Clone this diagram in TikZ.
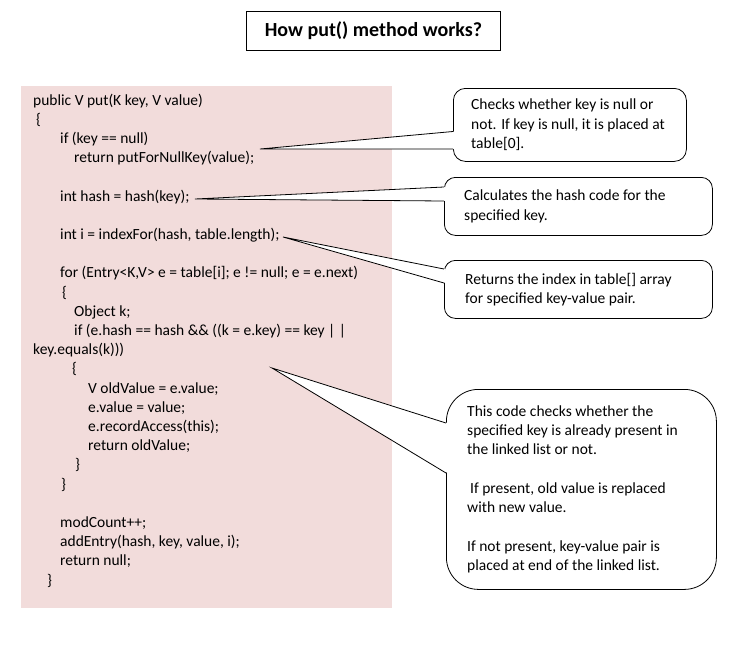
\documentclass[tikz,border=0pt]{standalone}
\usepackage{fontspec}
\setmainfont{Carlito}
\usepackage{tikz}
\usetikzlibrary{calc}
\usetikzlibrary{positioning}

\definecolor{codebg}{HTML}{F2DCDB}

\tikzset{
  codeline/.style={anchor=base west,inner sep=0pt,font=\fontsize{15.5}{19.2}\selectfont},
  bubble/.style={draw=black,fill=white,line width=0.8pt,anchor=north west,inner sep=0pt},
  bubbletext/.style={anchor=west,align=left,inner sep=0pt,font=\fontsize{15.5}{19.5}\selectfont},
}

\begin{document}
\begin{tikzpicture}[x=1pt,y=-1pt]
\useasboundingbox (0,0) rectangle (741,645);

\def\lw{0.8pt}

% title
\node[draw,line width=\lw,minimum width=254pt,minimum height=39pt,anchor=north west,
  font=\bfseries\fontsize{20}{24}\selectfont] (title) at (246,11) {How put() method works?};

% code
\fill[codebg] (21,86) rectangle (392,608);
\foreach \n/\x/\code in {1/33/{public V put(K key, V value)},
  2/36/\{,
  3/60/{if (key == null)},
  4/74/{return putForNullKey(value);},
  6/60/{int hash = hash(key);},
  8/60/{int i = indexFor(hash, table.length);},
  10/60/{for (Entry<K,V> e = table[i]; e != null; e = e.next)},
  11/62/\{,
  12/74/{Object k;},
  13/74/{if (e.hash == hash \&\& ((k = e.key) == key | |},
  14/33/{key.equals(k)))},
  15/72/\{,
  16/88/{V oldValue = e.value;},
  17/88/{e.value = value;},
  18/88/{e.recordAccess(this);},
  19/88/{return oldValue;},
  20/75/\},
  21/61/\},
  23/60/{modCount++;},
  24/60/{addEntry(hash, key, value, i);},
  25/60/{return null;},
  26/47/\}}
  \node[codeline] (c\n) at (\x,{105+19.2*(\n-1)}) {\code};

% callouts
\node[bubble,rounded corners=12pt,minimum width=233pt,minimum height=73pt] (nullchk) at (453,88) {};
\node[bubbletext] (nullchktext) at ($(nullchk.west)+(18,0)$)
  {Checks whether key is null or\\not. If key is null, it is placed at\\table[0].};

\node[bubble,rounded corners=11pt,minimum width=268pt,minimum height=58pt] (hashcalc) at (444,177) {};
\node[bubbletext] (hashcalctext) at ($(hashcalc.west)+(20,0)$)
  {Calculates the hash code for the\\specified key.};

\node[bubble,rounded corners=11pt,minimum width=268pt,minimum height=58pt] (idxcalc) at (444,260) {};
\node[bubbletext] (idxcalctext) at ($(idxcalc.west)+(21,0)$)
  {Returns the index in table[] array\\for specified key-value pair.};

\node[bubble,rounded corners=32pt,minimum width=270pt,minimum height=200pt] (lookup) at (446,389) {};
\node[bubbletext,font=\fontsize{15.5}{19.3}\selectfont] (lookuptext) at ($(lookup.west)+(21,0)$)
  {This code checks whether the\\specified key is already present in\\the linked list or not.\\[19.3pt]
   \hspace*{3pt}If present, old value is replaced\\with new value.\\[19.3pt]
   If not present, key-value pair is\\placed at end of the linked list.};

% pointers
\coordinate (nulltip) at (260,149);
\coordinate (hashtip) at (195,199);
\coordinate (idxtip) at (283,237);
\coordinate (lookuptip) at (272,368);

\foreach \b/\tip/\ya/\yb in {nullchk/nulltip/43.5/61,hashcalc/hashtip/10/24,
  idxcalc/idxtip/9/23,lookup/lookuptip/34/84}{
  \fill[white] (\tip) -- ($(\b.north west)+(1.5,\ya)$) -- ($(\b.north west)+(1.5,\yb)$) -- cycle;
  \draw[line width=\lw] ($(\b.north west)+(0,\ya)$) -- (\tip) -- ($(\b.north west)+(0,\yb)$);
}

\end{tikzpicture}
\end{document}
